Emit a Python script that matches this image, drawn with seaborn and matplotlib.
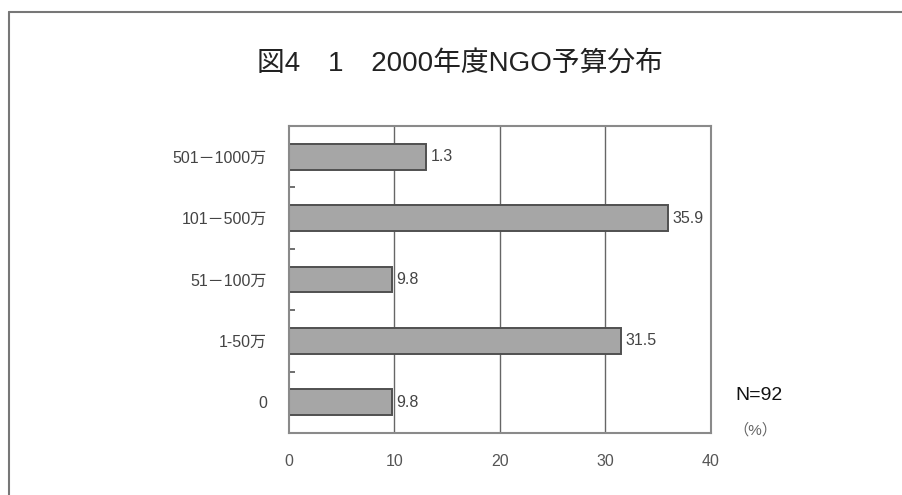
import matplotlib
matplotlib.use("Agg")
import matplotlib.pyplot as plt
from matplotlib.lines import Line2D
from matplotlib.ticker import FixedLocator
import seaborn as sns
import pandas as pd

# data (top to bottom)
categories = ["501－1000万", "101－500万", "51－100万", "1-50万", "0"]
shares = [13.0, 35.9, 9.8, 31.5, 9.8]          # bar lengths as drawn
bar_labels = ["1.3", "35.9", "9.8", "31.5", "9.8"]  # labels as printed
x_ticks = [0, 10, 20, 30, 40]

df = pd.DataFrame({"budget": categories, "share": shares})

sns.set_style("white")
plt.rcParams["font.family"] = ["Liberation Sans", "Noto Sans CJK JP"]

fig = plt.figure(figsize=(9.03, 4.95), dpi=100)
ax = fig.add_axes([289 / 903, 1 - 433 / 495, 422 / 903, 307 / 495])

sns.barplot(data=df, y="budget", x="share", orient="h", order=categories,
            color="#a6a6a6", edgecolor="#505050", linewidth=1.4,
            width=0.42, saturation=1, ax=ax)

ax.set_xlim(0, 40)
ax.set_ylim(4.5, -0.5)
ax.set_xlabel("")
ax.set_ylabel("")

ax.set_xticks(x_ticks)
ax.set_xticklabels([str(t) for t in x_ticks], fontsize=11.5, color="#555555")
ax.tick_params(axis="x", length=0, pad=15)
ax.tick_params(axis="y", which="major", length=0, pad=16, labelsize=11.5,
               labelcolor="#444444")
ax.yaxis.set_minor_locator(FixedLocator([0.5, 1.5, 2.5, 3.5]))
ax.tick_params(axis="y", which="minor", direction="in", length=4.5,
               width=1.2, color="#555555", left=True)

for v in [10, 20, 30]:
    ax.axvline(v, color="#666666", lw=1.0, zorder=0)

for s in ax.spines.values():
    s.set_visible(True)
    s.set_color("#8a8a8a")
    s.set_linewidth(1.5)

for i, (v, lab) in enumerate(zip(shares, bar_labels)):
    ax.text(v + 0.4, i, lab, va="center", ha="left", fontsize=11.5,
            color="#444444")

fig.text(460 / 903, 1 - 64 / 495, "図4　1　2000年度NGO予算分布",
         ha="center", va="center", fontsize=20, color="#222222")

fig.text(735 / 903, 1 - 395 / 495, "N=92", ha="left", va="center",
         fontsize=14, color="#111111")
fig.text(733 / 903, 1 - 430 / 495, "（%）", ha="left", va="center",
         fontsize=11, color="#666666")

# outer frame (left and top edges)
fig.add_artist(Line2D([9 / 903, 9 / 903], [0, 1 - 12 / 495],
                      transform=fig.transFigure, color="#777777", lw=1.5))
fig.add_artist(Line2D([9 / 903, 1], [1 - 12 / 495, 1 - 12 / 495],
                      transform=fig.transFigure, color="#777777", lw=1.5))

fig.savefig("out.png", dpi=100)
